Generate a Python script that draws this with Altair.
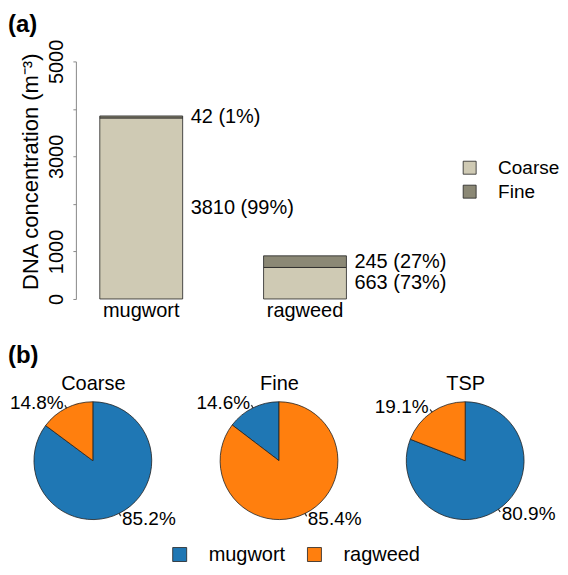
import json
import altair as alt
import pandas as pd

# ---------------- data ----------------
plants = ["mugwort", "ragweed"]
fractions = ["Coarse", "Fine"]
coarse_vals = [3810, 663]
fine_vals = [42, 245]
y_ticks = [0, 1000, 2000, 3000, 4000, 5000]
y_labels_shown = [0, 1000, 3000, 5000]
pie_groups = ["Coarse", "Fine", "TSP"]
bar_colors = ["#CFCAB4", "#8B8875"]
pie_colors = ["#1F77B4", "#FF7F0E"]

bar_rows = []
for i, p in enumerate(plants):
    bar_rows.append({"plant": p, "fraction": "Coarse", "value": coarse_vals[i], "ord": 0})
    bar_rows.append({"plant": p, "fraction": "Fine", "value": fine_vals[i], "ord": 1})
bar_df = pd.DataFrame(bar_rows)

pie_rows = []
for i, p in enumerate(plants):
    pie_rows.append({"group": "Coarse", "plant": p, "value": coarse_vals[i]})
    pie_rows.append({"group": "Fine", "plant": p, "value": fine_vals[i]})
    pie_rows.append({"group": "TSP", "plant": p, "value": coarse_vals[i] + fine_vals[i]})
pie_df = pd.DataFrame(pie_rows)

FONT = "Liberation Sans"

# ---------------- (a) stacked bars ----------------
bar_base = alt.Chart(bar_df).transform_stack(
    stack="value", groupby=["plant"], as_=["y0", "y1"],
    sort=[alt.SortField("ord", order="ascending")]
).transform_joinaggregate(
    total="sum(value)", groupby=["plant"]
).transform_calculate(
    mid="(datum.y0 + datum.y1) / 2",
    label="datum.value + ' (' + format(datum.value / datum.total * 100, '.0f') + '%)'"
)

x_enc = alt.X(
    "plant:N", sort=plants, title=None,
    scale=alt.Scale(paddingInner=0.494, paddingOuter=0.146),
    axis=alt.Axis(domain=False, ticks=False, tickSize=0, labelAngle=0, labelFontSize=20,
                  labelPadding=2, labelColor="black", labelFont=FONT),
)

label_expr = "indexof(%s, datum.value) >= 0 ? datum.label : ''" % json.dumps(y_labels_shown)

bars = bar_base.mark_bar(stroke="#222222", strokeWidth=0.8).encode(
    x=x_enc,
    y=alt.Y(
        "y0:Q",
        scale=alt.Scale(domain=[0, 5000], nice=False),
        axis=alt.Axis(
            values=y_ticks, format="d", labelExpr=label_expr, grid=False,
            domainColor="#888888", tickColor="#888888", tickSize=3,
            labelAngle=270, labelAlign="center", labelBaseline="alphabetic",
            labelPadding=10, labelFontSize=20, labelColor="black", labelFont=FONT,
            title="DNA concentration (m\u207b\u00b3)", titleFontSize=22,
            titleFontWeight="normal", titleColor="black", titleFont=FONT,
            titlePadding=4, titleY=110,
        ),
    ),
    y2="y1:Q",
    color=alt.Color(
        "fraction:N",
        scale=alt.Scale(domain=fractions, range=bar_colors),
        legend=alt.Legend(
            title=None, orient="none", legendX=385, legendY=97,
            symbolType="square", symbolSize=169, symbolStrokeColor="#222222",
            symbolStrokeWidth=0.8, labelFontSize=19, labelFont=FONT,
            labelOffset=19, rowPadding=4, padding=0, labelColor="black",
        ),
    ),
)

bar_text = bar_base.mark_text(
    align="left", baseline="middle", dx=8, fontSize=20, font=FONT, color="black"
).encode(
    x=alt.X("plant:N", sort=plants, bandPosition=1),
    y=alt.Y("mid:Q"),
    text="label:N",
)

chart_a = alt.layer(bars, bar_text).properties(
    width=295, height=238,
    title=alt.TitleParams("(a)", anchor="start", frame="group", fontSize=24,
                          fontWeight="bold", font=FONT, dx=-68, offset=2,
                          color="black"),
)

# ---------------- (b) pies ----------------
pie_base = alt.Chart(pie_df).transform_joinaggregate(
    total="sum(value)", groupby=["group"]
).transform_calculate(
    pct="datum.value / datum.total",
    lab="format(datum.value / datum.total * 100, '.1f') + '%'"
).transform_window(
    cum="sum(pct)", sort=[alt.SortField("value", order="descending")],
    groupby=["group"], frame=[None, 0]
).transform_calculate(
    t0="datum.cum - datum.pct",
    t1="datum.cum",
    mid="datum.cum - datum.pct / 2",
    k0="datum.cum - datum.pct / 2 - 0.0008",
    k1="datum.cum - datum.pct / 2 + 0.0008",
    labR="(datum.cum - datum.pct / 2) < 0.5 ? datum.lab : ''",
    labL="(datum.cum - datum.pct / 2) >= 0.5 ? datum.lab : ''",
)

theta_scale = alt.Scale(domain=[0, 1])
px = alt.X(
    "group:N", sort=pie_groups, title=None,
    scale=alt.Scale(type="point", padding=0.0912),
    axis=alt.Axis(orient="top", domain=False, ticks=False, tickSize=0, grid=False,
                  labelAngle=0, labelFontSize=20, labelFont=FONT, labelColor="black",
                  labelPadding=10),
)

arcs = pie_base.mark_arc(outerRadius=59, stroke="#222222", strokeWidth=0.8).encode(
    x=px,
    theta=alt.Theta("t0:Q", scale=theta_scale),
    theta2="t1:Q",
    color=alt.Color(
        "plant:N",
        scale=alt.Scale(domain=plants, range=pie_colors),
        legend=alt.Legend(
            title=None, orient="none", direction="horizontal",
            legendX=94, legendY=141,
            symbolType="square", symbolSize=196, symbolStrokeColor="#222222",
            symbolStrokeWidth=0.8, labelFontSize=20, labelFont=FONT,
            labelOffset=19, columnPadding=19, padding=0, labelColor="black",
        ),
    ),
)

ticks = pie_base.mark_arc(radius=62, radius2=59, stroke="#222222", strokeWidth=0.6,
                          fill="#222222").encode(
    x=alt.X("group:N", sort=pie_groups),
    theta=alt.Theta("k0:Q", scale=theta_scale),
    theta2="k1:Q",
)

text_r = pie_base.mark_text(radius=65, align="left", baseline="middle",
                            fontSize=19, font=FONT, color="black").encode(
    x=alt.X("group:N", sort=pie_groups),
    theta=alt.Theta("mid:Q", scale=theta_scale),
    text="labR:N",
)
text_l = pie_base.mark_text(radius=65, align="right", baseline="middle",
                            fontSize=19, font=FONT, color="black").encode(
    x=alt.X("group:N", sort=pie_groups),
    theta=alt.Theta("mid:Q", scale=theta_scale),
    text="labL:N",
)

chart_b = alt.layer(arcs, ticks, text_r, text_l).properties(
    width=407, height=114,
    title=alt.TitleParams("(b)", anchor="start", frame="group", fontSize=24,
                          fontWeight="bold", font=FONT, dx=-68, offset=6,
                          color="black"),
)

chart = alt.vconcat(chart_a, chart_b, spacing=23).resolve_scale(
    x="independent", y="independent", color="independent", theta="independent"
).resolve_legend(color="independent").properties(
    padding={"left": 0, "top": 4, "right": 0, "bottom": 0}
).configure(font=FONT).configure_view(stroke=None)

chart.save("out.html", embed_options={"renderer": "svg", "actions": False})
